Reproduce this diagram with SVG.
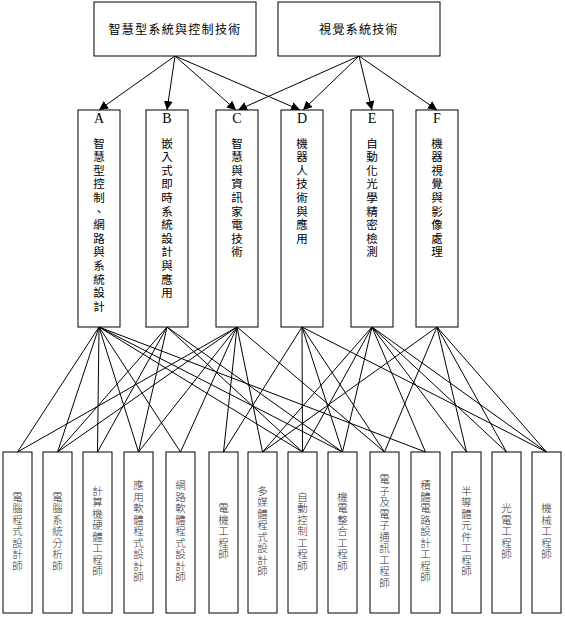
<svg xmlns="http://www.w3.org/2000/svg" width="565" height="617" viewBox="0 0 565 617">
<defs>
<marker id="ah" viewBox="0 0 10 10" refX="10" refY="5" markerWidth="9" markerHeight="9" markerUnits="userSpaceOnUse" orient="auto">
<path d="M0,0 L10,5 L0,10 z" fill="#000"/>
</marker>
<style>
.box{fill:#fff;stroke:#000;stroke-width:1}
.t{font-family:"Noto Sans CJK TC","Noto Sans CJK SC",sans-serif;font-size:12px;fill:#000}
.v{font-family:"Noto Sans CJK TC","Noto Sans CJK SC",sans-serif;font-size:11.5px;fill:#000;text-anchor:middle}
.b{font-family:"Noto Sans CJK TC","Noto Sans CJK SC",sans-serif;font-size:10.5px;fill:#333;text-anchor:middle;font-weight:300}
.L{font-family:"Liberation Serif",serif;font-size:14px;fill:#000;text-anchor:middle}
.arr{stroke:#000;stroke-width:1;fill:none;marker-end:url(#ah)}
.ln{stroke:#000;stroke-width:1;fill:none}
</style>
</defs>
<rect width="565" height="617" fill="#fff"/>
<g id="connectors">
<line class="arr" x1="175" y1="56" x2="99" y2="110"/>
<line class="arr" x1="175" y1="56" x2="167" y2="110"/>
<line class="arr" x1="175" y1="56" x2="236" y2="110"/>
<line class="arr" x1="175" y1="56" x2="300" y2="110"/>
<line class="arr" x1="359" y1="56" x2="238" y2="110"/>
<line class="arr" x1="359" y1="56" x2="303" y2="110"/>
<line class="arr" x1="359" y1="56" x2="372" y2="110"/>
<line class="arr" x1="359" y1="56" x2="437" y2="110"/>
<path class="ln" d="M99,327 L17.5,452 M99,327 L57.5,452 M99,327 L97.5,452 M99,327 L138.5,452 M99,327 L180.5,452 M99,327 L302.5,452 M99,327 L342.5,452 M99,327 L425.5,452"/>
<path class="ln" d="M167,327 L57.5,452 M167,327 L97.5,452 M167,327 L138.5,452 M167,327 L302.5,452 M167,327 L342.5,452"/>
<path class="ln" d="M237,327 L17.5,452 M237,327 L57.5,452 M237,327 L138.5,452 M237,327 L180.5,452 M237,327 L223.5,452 M237,327 L262.5,452 M237,327 L384.5,452"/>
<path class="ln" d="M302,327 L223.5,452 M302,327 L302.5,452 M302,327 L342.5,452 M302,327 L384.5,452 M302,327 L546.5,452"/>
<path class="ln" d="M372,327 L262.5,452 M372,327 L302.5,452 M372,327 L342.5,452 M372,327 L425.5,452 M372,327 L466.5,452 M372,327 L506.5,452 M372,327 L546.5,452"/>
<path class="ln" d="M437,327 L262.5,452 M437,327 L384.5,452 M437,327 L466.5,452 M437,327 L506.5,452 M437,327 L546.5,452"/>
</g>
<g id="top1"><rect class="box" x="94" y="2" width="162" height="54"/><text class="t" x="175" y="34" text-anchor="middle" letter-spacing="1.3">智慧型系統與控制技術</text></g>
<g id="top2"><rect class="box" x="278" y="2" width="162" height="54"/><text class="t" x="359" y="34" text-anchor="middle" letter-spacing="1.3">視覺系統技術</text></g>
<g id="A"><rect class="box" x="78" y="110" width="42" height="217"/><text class="L" x="99" y="123">A</text>
<text class="v"><tspan x="99" y="147.5">智</tspan><tspan x="99" dy="13.6">慧</tspan><tspan x="99" dy="13.6">型</tspan><tspan x="99" dy="13.6">控</tspan><tspan x="99" dy="13.6">制</tspan><tspan x="99" dy="13.6">、</tspan><tspan x="99" dy="13.6">網</tspan><tspan x="99" dy="13.6">路</tspan><tspan x="99" dy="13.6">與</tspan><tspan x="99" dy="13.6">系</tspan><tspan x="99" dy="13.6">統</tspan><tspan x="99" dy="13.6">設</tspan><tspan x="99" dy="13.6">計</tspan></text></g>
<g id="B"><rect class="box" x="146" y="110" width="42" height="217"/><text class="L" x="167" y="123">B</text>
<text class="v"><tspan x="167" y="147.5">嵌</tspan><tspan x="167" dy="13.6">入</tspan><tspan x="167" dy="13.6">式</tspan><tspan x="167" dy="13.6">即</tspan><tspan x="167" dy="13.6">時</tspan><tspan x="167" dy="13.6">系</tspan><tspan x="167" dy="13.6">統</tspan><tspan x="167" dy="13.6">設</tspan><tspan x="167" dy="13.6">計</tspan><tspan x="167" dy="13.6">與</tspan><tspan x="167" dy="13.6">應</tspan><tspan x="167" dy="13.6">用</tspan></text></g>
<g id="C"><rect class="box" x="216" y="110" width="42" height="217"/><text class="L" x="237" y="123">C</text>
<text class="v"><tspan x="237" y="147.5">智</tspan><tspan x="237" dy="13.6">慧</tspan><tspan x="237" dy="13.6">與</tspan><tspan x="237" dy="13.6">資</tspan><tspan x="237" dy="13.6">訊</tspan><tspan x="237" dy="13.6">家</tspan><tspan x="237" dy="13.6">電</tspan><tspan x="237" dy="13.6">技</tspan><tspan x="237" dy="13.6">術</tspan></text></g>
<g id="D"><rect class="box" x="281" y="110" width="42" height="217"/><text class="L" x="302" y="123">D</text>
<text class="v"><tspan x="302" y="147.5">機</tspan><tspan x="302" dy="13.6">器</tspan><tspan x="302" dy="13.6">人</tspan><tspan x="302" dy="13.6">技</tspan><tspan x="302" dy="13.6">術</tspan><tspan x="302" dy="13.6">與</tspan><tspan x="302" dy="13.6">應</tspan><tspan x="302" dy="13.6">用</tspan></text></g>
<g id="E"><rect class="box" x="351" y="110" width="42" height="217"/><text class="L" x="372" y="123">E</text>
<text class="v"><tspan x="372" y="147.5">自</tspan><tspan x="372" dy="13.6">動</tspan><tspan x="372" dy="13.6">化</tspan><tspan x="372" dy="13.6">光</tspan><tspan x="372" dy="13.6">學</tspan><tspan x="372" dy="13.6">精</tspan><tspan x="372" dy="13.6">密</tspan><tspan x="372" dy="13.6">檢</tspan><tspan x="372" dy="13.6">測</tspan></text></g>
<g id="F"><rect class="box" x="416" y="110" width="42" height="217"/><text class="L" x="437" y="123">F</text>
<text class="v"><tspan x="437" y="147.5">機</tspan><tspan x="437" dy="13.6">器</tspan><tspan x="437" dy="13.6">視</tspan><tspan x="437" dy="13.6">覺</tspan><tspan x="437" dy="13.6">與</tspan><tspan x="437" dy="13.6">影</tspan><tspan x="437" dy="13.6">像</tspan><tspan x="437" dy="13.6">處</tspan><tspan x="437" dy="13.6">理</tspan></text></g>
<g id="j1"><rect class="box" x="3" y="452" width="29" height="161"/><text class="b"><tspan x="17.5" y="500.5">電</tspan><tspan x="17.5" dy="11.5">腦</tspan><tspan x="17.5" dy="11.5">程</tspan><tspan x="17.5" dy="11.5">式</tspan><tspan x="17.5" dy="11.5">設</tspan><tspan x="17.5" dy="11.5">計</tspan><tspan x="17.5" dy="11.5">師</tspan></text></g>
<g id="j2"><rect class="box" x="43" y="452" width="29" height="161"/><text class="b"><tspan x="57.5" y="500.5">電</tspan><tspan x="57.5" dy="11.5">腦</tspan><tspan x="57.5" dy="11.5">系</tspan><tspan x="57.5" dy="11.5">統</tspan><tspan x="57.5" dy="11.5">分</tspan><tspan x="57.5" dy="11.5">析</tspan><tspan x="57.5" dy="11.5">師</tspan></text></g>
<g id="j3"><rect class="box" x="83" y="452" width="29" height="161"/><text class="b"><tspan x="97.5" y="494.75">計</tspan><tspan x="97.5" dy="11.5">算</tspan><tspan x="97.5" dy="11.5">機</tspan><tspan x="97.5" dy="11.5">硬</tspan><tspan x="97.5" dy="11.5">體</tspan><tspan x="97.5" dy="11.5">工</tspan><tspan x="97.5" dy="11.5">程</tspan><tspan x="97.5" dy="11.5">師</tspan></text></g>
<g id="j4"><rect class="box" x="124" y="452" width="29" height="161"/><text class="b"><tspan x="138.5" y="489">應</tspan><tspan x="138.5" dy="11.5">用</tspan><tspan x="138.5" dy="11.5">軟</tspan><tspan x="138.5" dy="11.5">體</tspan><tspan x="138.5" dy="11.5">程</tspan><tspan x="138.5" dy="11.5">式</tspan><tspan x="138.5" dy="11.5">設</tspan><tspan x="138.5" dy="11.5">計</tspan><tspan x="138.5" dy="11.5">師</tspan></text></g>
<g id="j5"><rect class="box" x="166" y="452" width="29" height="161"/><text class="b"><tspan x="180.5" y="489">網</tspan><tspan x="180.5" dy="11.5">路</tspan><tspan x="180.5" dy="11.5">軟</tspan><tspan x="180.5" dy="11.5">體</tspan><tspan x="180.5" dy="11.5">程</tspan><tspan x="180.5" dy="11.5">式</tspan><tspan x="180.5" dy="11.5">設</tspan><tspan x="180.5" dy="11.5">計</tspan><tspan x="180.5" dy="11.5">師</tspan></text></g>
<g id="j6"><rect class="box" x="209" y="452" width="29" height="161"/><text class="b"><tspan x="223.5" y="512">電</tspan><tspan x="223.5" dy="11.5">機</tspan><tspan x="223.5" dy="11.5">工</tspan><tspan x="223.5" dy="11.5">程</tspan><tspan x="223.5" dy="11.5">師</tspan></text></g>
<g id="j7"><rect class="box" x="248" y="452" width="29" height="161"/><text class="b"><tspan x="262.5" y="494.75">多</tspan><tspan x="262.5" dy="11.5">媒</tspan><tspan x="262.5" dy="11.5">體</tspan><tspan x="262.5" dy="11.5">程</tspan><tspan x="262.5" dy="11.5">式</tspan><tspan x="262.5" dy="11.5">設</tspan><tspan x="262.5" dy="11.5">計</tspan><tspan x="262.5" dy="11.5">師</tspan></text></g>
<g id="j8"><rect class="box" x="288" y="452" width="29" height="161"/><text class="b"><tspan x="302.5" y="500.5">自</tspan><tspan x="302.5" dy="11.5">動</tspan><tspan x="302.5" dy="11.5">控</tspan><tspan x="302.5" dy="11.5">制</tspan><tspan x="302.5" dy="11.5">工</tspan><tspan x="302.5" dy="11.5">程</tspan><tspan x="302.5" dy="11.5">師</tspan></text></g>
<g id="j9"><rect class="box" x="328" y="452" width="29" height="161"/><text class="b"><tspan x="342.5" y="500.5">機</tspan><tspan x="342.5" dy="11.5">電</tspan><tspan x="342.5" dy="11.5">整</tspan><tspan x="342.5" dy="11.5">合</tspan><tspan x="342.5" dy="11.5">工</tspan><tspan x="342.5" dy="11.5">程</tspan><tspan x="342.5" dy="11.5">師</tspan></text></g>
<g id="j10"><rect class="box" x="370" y="452" width="29" height="161"/><text class="b"><tspan x="384.5" y="483.25">電</tspan><tspan x="384.5" dy="11.5">子</tspan><tspan x="384.5" dy="11.5">及</tspan><tspan x="384.5" dy="11.5">電</tspan><tspan x="384.5" dy="11.5">子</tspan><tspan x="384.5" dy="11.5">通</tspan><tspan x="384.5" dy="11.5">訊</tspan><tspan x="384.5" dy="11.5">工</tspan><tspan x="384.5" dy="11.5">程</tspan><tspan x="384.5" dy="11.5">師</tspan></text></g>
<g id="j11"><rect class="box" x="411" y="452" width="29" height="161"/><text class="b"><tspan x="425.5" y="489">積</tspan><tspan x="425.5" dy="11.5">體</tspan><tspan x="425.5" dy="11.5">電</tspan><tspan x="425.5" dy="11.5">路</tspan><tspan x="425.5" dy="11.5">設</tspan><tspan x="425.5" dy="11.5">計</tspan><tspan x="425.5" dy="11.5">工</tspan><tspan x="425.5" dy="11.5">程</tspan><tspan x="425.5" dy="11.5">師</tspan></text></g>
<g id="j12"><rect class="box" x="452" y="452" width="29" height="161"/><text class="b"><tspan x="466.5" y="494.75">半</tspan><tspan x="466.5" dy="11.5">導</tspan><tspan x="466.5" dy="11.5">體</tspan><tspan x="466.5" dy="11.5">元</tspan><tspan x="466.5" dy="11.5">件</tspan><tspan x="466.5" dy="11.5">工</tspan><tspan x="466.5" dy="11.5">程</tspan><tspan x="466.5" dy="11.5">師</tspan></text></g>
<g id="j13"><rect class="box" x="492" y="452" width="29" height="161"/><text class="b"><tspan x="506.5" y="512">光</tspan><tspan x="506.5" dy="11.5">電</tspan><tspan x="506.5" dy="11.5">工</tspan><tspan x="506.5" dy="11.5">程</tspan><tspan x="506.5" dy="11.5">師</tspan></text></g>
<g id="j14"><rect class="box" x="532" y="452" width="29" height="161"/><text class="b"><tspan x="546.5" y="512">機</tspan><tspan x="546.5" dy="11.5">械</tspan><tspan x="546.5" dy="11.5">工</tspan><tspan x="546.5" dy="11.5">程</tspan><tspan x="546.5" dy="11.5">師</tspan></text></g>
</svg>
